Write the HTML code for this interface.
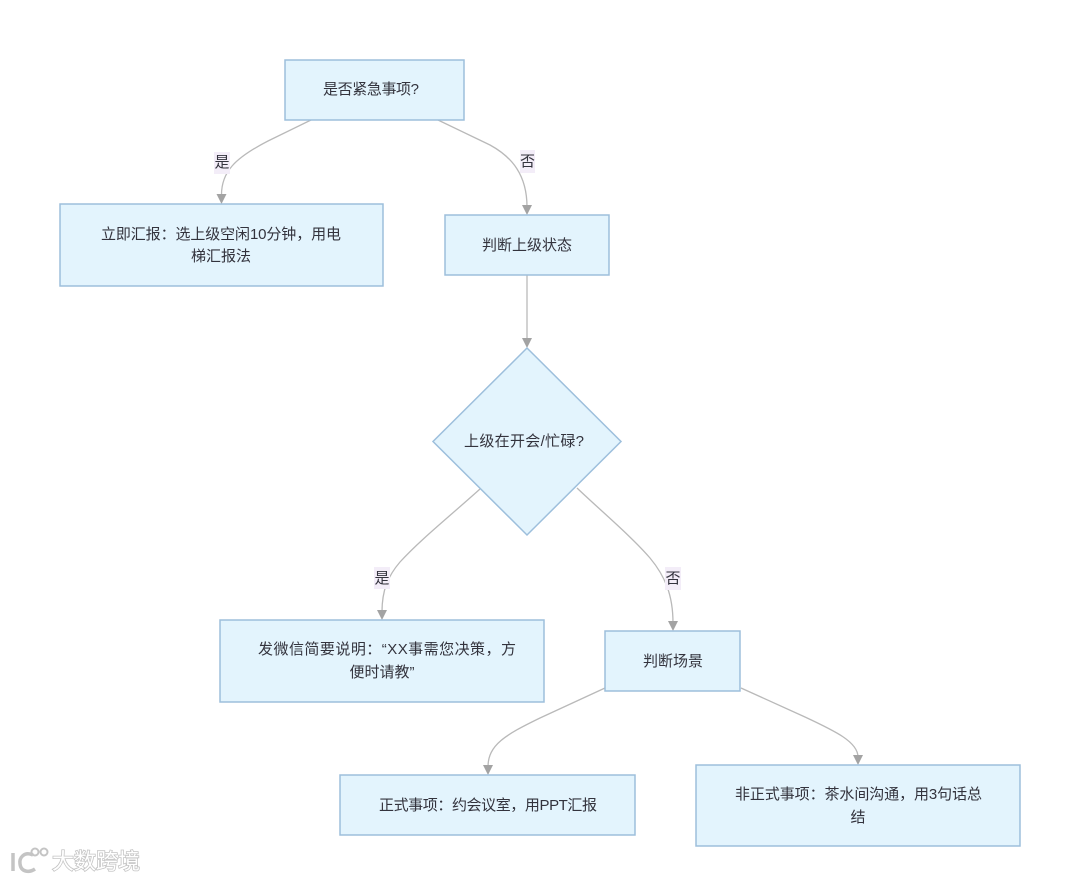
<!DOCTYPE html>
<html lang="zh">
<head>
<meta charset="utf-8">
<style>
html,body{margin:0;padding:0;background:#fff}
body{width:1080px;height:881px;overflow:hidden;position:relative}
svg{position:absolute;left:0;top:0;filter:blur(.35px)}
text{font-family:"Liberation Sans","Noto Sans CJK SC",sans-serif;font-size:15px;fill:#33333d;text-anchor:middle}
.n{fill:#e3f4fd;stroke:#9dbfdc;stroke-width:1.5}
.e{fill:none;stroke:#b9b9b9;stroke-width:1.3}
.a{fill:#a3a3a3}
.l{fill:#f3edf8}
.wm{font-size:22px;fill:#fff;stroke:#c4c4c4;stroke-width:1.6;paint-order:stroke;text-anchor:start}
</style>
</head>
<body>
<svg width="1080" height="881" viewBox="0 0 1080 881" xmlns="http://www.w3.org/2000/svg">
<!-- connectors -->
<path class="e" d="M311 120 L268 141 C235 158 221 172 221.500 196"/>
<path class="e" d="M438 120 L490 145 C512 157 527 175 527 207"/>
<path class="e" d="M527 275 L527 340"/>
<path class="e" d="M480 489 C450 516 420 540 400 562 C388 576 382 590 382 612"/>
<path class="e" d="M577 488 C600 510 630 535 650 558 C665 576 673 595 673 623"/>
<path class="e" d="M605 688 L540 718 C505 735 488 745 488 767"/>
<path class="e" d="M741 688 L805 717 C835 731 858 742 858 757"/>
<!-- arrowheads -->
<polygon class="a" points="216.500,194 226.500,194 221.500,204"/>
<polygon class="a" points="522,205 532,205 527,215"/>
<polygon class="a" points="522,338 532,338 527,348"/>
<polygon class="a" points="377,610 387,610 382,620"/>
<polygon class="a" points="668,621 678,621 673,631"/>
<polygon class="a" points="483,765 493,765 488,775"/>
<polygon class="a" points="853,755 863,755 858,765"/>
<!-- nodes -->
<rect class="n" x="285" y="60" width="179" height="60"/>
<rect class="n" x="60" y="204" width="323" height="82"/>
<rect class="n" x="445" y="215" width="164" height="60"/>
<polygon class="n" points="527,348 621,441.500 527,535 433,441.500"/>
<rect class="n" x="220" y="620" width="324" height="82"/>
<rect class="n" x="605" y="631" width="135" height="60"/>
<rect class="n" x="340" y="775" width="295" height="60"/>
<rect class="n" x="696" y="765" width="324" height="81"/>
<!-- edge labels -->
<rect class="l" x="214" y="152" width="16" height="22"/>
<rect class="l" x="520" y="150" width="15" height="23"/>
<rect class="l" x="374" y="567" width="16" height="22"/>
<rect class="l" x="665" y="567" width="16" height="23"/>
<text x="222" y="167">是</text>
<text x="527.500" y="166">否</text>
<text x="382" y="583">是</text>
<text x="673" y="583">否</text>
<!-- node labels -->
<text x="371" y="94" textLength="96">是否紧急事项?</text>
<text x="221" y="239" textLength="240">立即汇报：选上级空闲10分钟，用电</text>
<text x="221" y="261">梯汇报法</text>
<text x="527" y="250">判断上级状态</text>
<text x="524" y="446" textLength="120">上级在开会/忙碌?</text>
<text x="387" y="654" textLength="258">发微信简要说明：“XX事需您决策，方</text>
<text x="382" y="677">便时请教”</text>
<text x="673" y="666">判断场景</text>
<text x="488" y="810" textLength="218">正式事项：约会议室，用PPT汇报</text>
<text x="858.500" y="799" textLength="247">非正式事项：茶水间沟通，用3句话总</text>
<text x="858" y="822">结</text>
<!-- watermark -->
<g fill="none" stroke="#c4c4c4">
<path d="M13 853 L13 871" stroke-width="3.500"/>
<path d="M33 855 C24 851 19 858 20 864 C21 872 29 873 35 869" stroke-width="3.500"/>
<circle cx="35" cy="852" r="3.500" stroke-width="2"/>
<circle cx="44" cy="852" r="3.500" stroke-width="2"/>
</g>
<text class="wm" x="52" y="869">大数跨境</text>
</svg>
</body>
</html>
